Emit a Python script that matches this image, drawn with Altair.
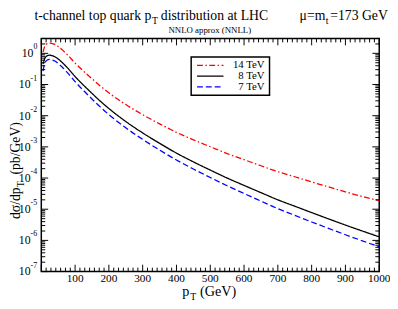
import altair as alt
import pandas as pd
import numpy as np

# ---------------- data ----------------
pt = [5, 10, 15, 20, 25, 30, 40, 50, 60, 80, 100, 125, 150, 175, 200, 250, 300,
      350, 400, 450, 500, 550, 600, 650, 700, 750, 800, 850, 900, 950, 1000]
v14 = [1.10, 1.67, 1.96, 2.11, 2.13, 2.10, 1.93, 1.65, 1.35, 0.84, 0.486, 0.268,
       0.153, 0.089, 0.054, 0.0228, 0.0108, 0.00546, 2.93e-3, 1.68e-3, 1.01e-3,
       6.1e-4, 3.89e-4, 2.48e-4, 1.6e-4, 1.1e-4, 7.5e-5, 5.2e-5, 3.6e-5, 2.56e-5, 1.89e-5]
v8 = [0.45, 0.68, 0.80, 0.86, 0.87, 0.85, 0.78, 0.66, 0.53, 0.32, 0.18, 0.095,
      0.052, 0.029, 0.017, 0.0065, 0.0028, 0.0013, 6.3e-4, 3.3e-4, 1.8e-4,
      1.0e-4, 5.8e-5, 3.4e-5, 2.0e-5, 1.25e-5, 7.8e-6, 4.9e-6, 3.1e-6, 2.0e-6, 1.3e-6]
v7 = [0.27, 0.476, 0.576, 0.628, 0.635, 0.62, 0.569, 0.475, 0.379, 0.224, 0.124,
      0.064, 0.0343, 0.01885, 0.01088, 0.0041, 0.001736, 7.93e-4, 3.78e-4, 1.95e-4,
      1.04e-4, 5.65e-5, 3.19e-5, 1.82e-5, 1.04e-5, 6.4e-6, 3.9e-6, 2.43e-6, 1.52e-6,
      9.7e-7, 6.2e-7]
series = ["14 TeV", "8 TeV", "7 TeV"]
colors = ["#ff0000", "#000000", "#0000ff"]
dashes = [[6, 2.5, 1.5, 2.5], [1, 0], [6, 3]]
x_label_values = [100, 200, 300, 400, 500, 600, 700, 800, 900, 1000]
y_exponents = [0, -1, -2, -3, -4, -5, -6, -7]

# ---------------- layout ----------------
W, H = 345, 238
SERIF = "Liberation Serif, Times New Roman, DejaVu Serif, serif"
xs = alt.Scale(domain=[0, 1000], nice=False, zero=False)
ys = alt.Scale(type="log", domain=[1e-7, 3], nice=False)

rows = []
for s, vals in zip(series, [v14, v8, v7]):
    for p, v in zip(pt, vals):
        rows.append({"s": s, "pt": p, "v": v})
df = pd.DataFrame(rows)

lines = alt.Chart(df).mark_line(strokeWidth=1.3, interpolate="monotone").encode(
    x=alt.X("pt:Q", scale=xs, axis=None),
    y=alt.Y("v:Q", scale=ys, axis=None),
    color=alt.Color("s:N", scale=alt.Scale(domain=series, range=colors), legend=None),
    strokeDash=alt.StrokeDash("s:N", scale=alt.Scale(domain=series, range=dashes), legend=None),
)

# ---------------- inward ticks on all four sides ----------------
x_major = pd.DataFrame({"t": np.arange(0, 1001, 100)})
x_minor = pd.DataFrame({"t": [m + k * 100 / 7 for m in range(0, 1000, 100) for k in range(1, 7)]})
y_major = pd.DataFrame({"t": [10.0 ** e for e in y_exponents]})
y_minor = pd.DataFrame({"t": [k * 10.0 ** e for e in range(-7, 1) for k in range(2, 10) if k * 10.0 ** e <= 3]})

def xticks(d, ln):
    b = alt.Chart(d).mark_rule(color="black", strokeWidth=1).encode(
        x=alt.X("t:Q", scale=xs, axis=None), y=alt.value(H), y2=alt.value(H - ln))
    t = alt.Chart(d).mark_rule(color="black", strokeWidth=1).encode(
        x=alt.X("t:Q", scale=xs, axis=None), y=alt.value(0), y2=alt.value(ln))
    return [b, t]

def yticks(d, ln):
    l = alt.Chart(d).mark_rule(color="black", strokeWidth=1).encode(
        y=alt.Y("t:Q", scale=ys, axis=None), x=alt.value(0), x2=alt.value(ln))
    r = alt.Chart(d).mark_rule(color="black", strokeWidth=1).encode(
        y=alt.Y("t:Q", scale=ys, axis=None), x=alt.value(W), x2=alt.value(W - ln))
    return [l, r]

ticks = xticks(x_major, 7) + xticks(x_minor, 4) + yticks(y_major, 7) + yticks(y_minor, 4)

# ---------------- x tick labels ----------------
xlab = pd.DataFrame({"t": x_label_values, "lab": [str(v) for v in x_label_values]})
xlabels = alt.Chart(xlab).mark_text(font=SERIF, fontSize=11.5, align="center", baseline="middle",
                                    color="black").encode(
    x=alt.X("t:Q", scale=xs, axis=None), y=alt.value(H + 8), text="lab:N")

# ---------------- y tick labels 10^n ----------------
ylab = pd.DataFrame({"e": y_exponents})
ylab["t"] = [10.0 ** e for e in y_exponents]
ylab["exp"] = [str(e) for e in y_exponents]
ylab0 = ylab[ylab.e == 0]
ylabn = ylab[ylab.e != 0]

def ylabels(d, xo):
    base = alt.Chart(d).mark_text(font=SERIF, fontSize=12, align="right", baseline="middle",
                                  color="black", text="10").encode(
        y=alt.Y("t:Q", scale=ys, axis=None), x=alt.value(xo))
    ex = alt.Chart(d).mark_text(font=SERIF, fontSize=8, align="left", baseline="middle",
                                color="black", dy=-6).encode(
        y=alt.Y("t:Q", scale=ys, axis=None), x=alt.value(xo), text="exp:N")
    return [base, ex]

ylabs = ylabels(ylab0, -8) + ylabels(ylabn, -11)

# ---------------- texts ----------------
one = pd.DataFrame({"a": [0]})

def txt(s, x, y, size, align="left", angle=0, baseline="alphabetic"):
    return alt.Chart(one).mark_text(text=s, font=SERIF, fontSize=size, align=align,
                                    baseline=baseline, angle=angle, color="black").encode(
        x=alt.value(x), y=alt.value(y))

texts = [
    txt("t-channel top quark p", -7, -19, 14, "left"),
    txt("T", 113, -15, 10),
    txt("distribution at LHC", 122, -19, 14),
    txt("\u03bc=m", 290, -19, 14, "right"),
    txt("t", 290.5, -15, 10),
    txt("=173 GeV", 295, -19, 14),
    txt("NNLO approx (NNLL)", 172, -6, 9, "center"),
    # x title
    txt("p", 144, 263, 14.5),
    txt("T", 152, 267, 10),
    txt("(GeV)", 162, 263, 14.5),
    # y title (rotated)
    txt("d\u03c3/dp", -22, 152, 14, "right", 270),
    txt("T", -18, 152, 10, "left", 270),
    txt("(pb/GeV)", -22, 139, 14, "left", 270),
]

# ---------------- legend ----------------
legend_box = alt.Chart(one).mark_rect(fill="white", stroke="black", strokeWidth=1.5).encode(
    x=alt.value(153), x2=alt.value(233), y=alt.value(19), y2=alt.value(58))
legend = [legend_box]
for s, c, d, yy in zip(series, colors, dashes, [27.5, 38.5, 49.5]):
    legend.append(alt.Chart(one).mark_rule(color=c, strokeWidth=1.3, strokeDash=d).encode(
        x=alt.value(159), x2=alt.value(186), y=alt.value(yy)))
    legend.append(txt(s, 228, yy, 11, "right", baseline="middle"))

chart = alt.layer(lines, *ticks, xlabels, *ylabs, *legend, *texts).properties(
    width=W, height=H, autosize="none",
    padding={"left": 34, "top": 28, "right": 11, "bottom": 30},
).configure_view(stroke="black", strokeWidth=1.5)

chart.save("out.html", embed_options={"renderer": "svg", "actions": False})
